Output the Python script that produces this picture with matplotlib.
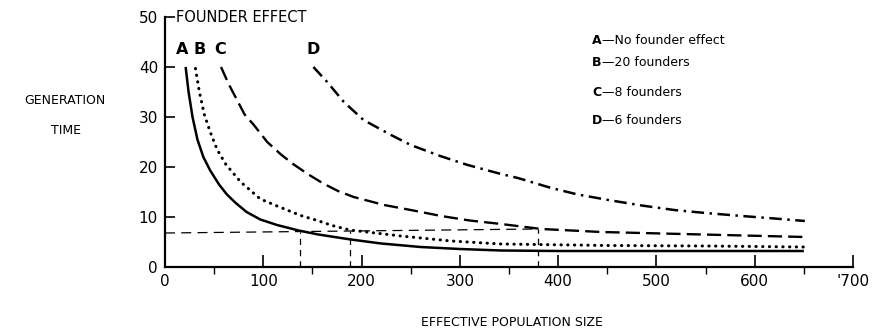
"""
Founder effect: generation time vs effective population size.
"""

import matplotlib
matplotlib.use("Agg")
import matplotlib.pyplot as plt

W, H = 872, 333

# curves (x = effective population size, y = generation time)
A_x = [21, 24, 28, 33, 39, 46, 55, 63, 72, 83, 97, 114, 136, 156, 189, 220, 260, 300, 342, 400, 650]
A_y = [40, 35, 30, 25.5, 22, 19.3, 16.5, 14.5, 12.8, 11, 9.5, 8.4, 7.3, 6.5, 5.5, 4.7, 4.0, 3.6, 3.3, 3.2, 3.2]

B_x = [31, 35, 40, 46, 53, 62, 77, 97, 114, 138, 155, 170, 188, 240, 291, 342, 450, 550, 650]
B_y = [39.7, 35, 30.5, 27, 23.5, 20.5, 17, 13.6, 12.2, 10.3, 9.3, 8.3, 7.4, 6.2, 5.2, 4.6, 4.3, 4.2, 4.0]

C_x = [57, 65, 73, 81, 90, 104, 118, 131, 146, 161, 176, 192, 223, 250, 281, 310, 342, 383, 444, 526, 651]
C_y = [40, 36.5, 33.5, 30.5, 28.5, 25, 22.5, 20.5, 18.5, 16.7, 15.2, 14, 12.4, 11.4, 10.2, 9.3, 8.6, 7.6, 7.0, 6.6, 6.0]

D_x = [151, 158, 165, 182, 202, 230, 250, 280, 308, 340, 359, 393, 420, 451, 485, 518, 550, 587, 620, 651]
D_y = [40, 38.5, 37, 33, 29.4, 26.4, 24.4, 22.2, 20.4, 18.7, 17.8, 15.8, 14.5, 13.4, 12.3, 11.4, 10.8, 10.2, 9.7, 9.2]

# reference line near generation time 7 and the drop lines where curves cross it
ref_x = [0, 380]
ref_y = [6.8, 7.6]
drop_x = [137, 188, 380]
drop_y = [7.0, 7.3, 7.6]

curve_letters = ["A", "B", "C", "D"]
letter_x = [17, 35, 56, 151]

legend_letters = ["A", "B", "C", "D"]
legend_texts = ["\u2014No founder effect", "\u201420 founders", "\u20148 founders", "\u20146 founders"]

xticks = [0, 100, 200, 300, 400, 500, 600, 700]
xtick_labels = ["0", "100", "200", "300", "400", "500", "600", "'700"]
yticks = [0, 10, 20, 30, 40, 50]

plt.rcParams["font.family"] = ["DejaVu Sans"]

fig = plt.figure(figsize=(W / 100, H / 100), dpi=100)
ax = fig.add_axes([165 / W, 1 - 267 / H, (853 - 165) / W, 250 / H])

ax.plot(A_x, A_y, color="black", lw=1.8, solid_capstyle="butt", solid_joinstyle="round")
ax.plot(B_x, B_y, color="black", lw=2.2, linestyle=(0, (0.1, 2.1)), dash_capstyle="round")
ax.plot(C_x, C_y, color="black", lw=1.7, dashes=(6, 2.6))
ax.plot(D_x, D_y, color="black", lw=1.8, dashes=(5, 2.2, 1, 2.2))

ax.plot(ref_x, ref_y, color="black", lw=0.9, dashes=(8, 5))
for dx, dy in zip(drop_x, drop_y):
    ax.plot([dx, dx], [0, dy], color="black", lw=0.9, dashes=(5, 4))

for lab, lx in zip(curve_letters, letter_x):
    ax.text(lx, 43.4, lab, fontsize=11.5, fontweight="bold", ha="center", va="center")

ax.text(11, 50, "FOUNDER EFFECT", fontsize=10.5, ha="left", va="center")

ax.set_xlim(0, 700)
ax.set_ylim(0, 50)
ax.set_xticks(xticks)
ax.set_xticklabels(xtick_labels)
ax.set_xticks(range(50, 700, 100), minor=True)
ax.set_yticks(yticks)
ax.tick_params(axis="both", direction="in", width=1.2, labelsize=11)
ax.tick_params(axis="x", which="major", length=9, pad=5)
ax.tick_params(axis="x", which="minor", length=5, width=1.0)
ax.tick_params(axis="y", length=7, pad=5)
for s in ("top", "right"):
    ax.spines[s].set_visible(False)
for s in ("left", "bottom"):
    ax.spines[s].set_linewidth(1.6)

# legend block to the right
ly = [40, 63, 93, 120]
for lt, txt, y in zip(legend_letters, legend_texts, ly):
    fig.text(592 / W, 1 - y / H, lt, fontsize=9, fontweight="bold", ha="left", va="center")
    fig.text(602 / W, 1 - y / H, txt, fontsize=9, ha="left", va="center")

fig.text(65 / W, 1 - 100 / H, "GENERATION", fontsize=9, ha="center", va="center")
fig.text(66 / W, 1 - 131 / H, "TIME", fontsize=9, ha="center", va="center")
fig.text(512 / W, 1 - 322 / H, "EFFECTIVE POPULATION SIZE", fontsize=9, ha="center", va="center")

fig.savefig("out.png", dpi=100)
